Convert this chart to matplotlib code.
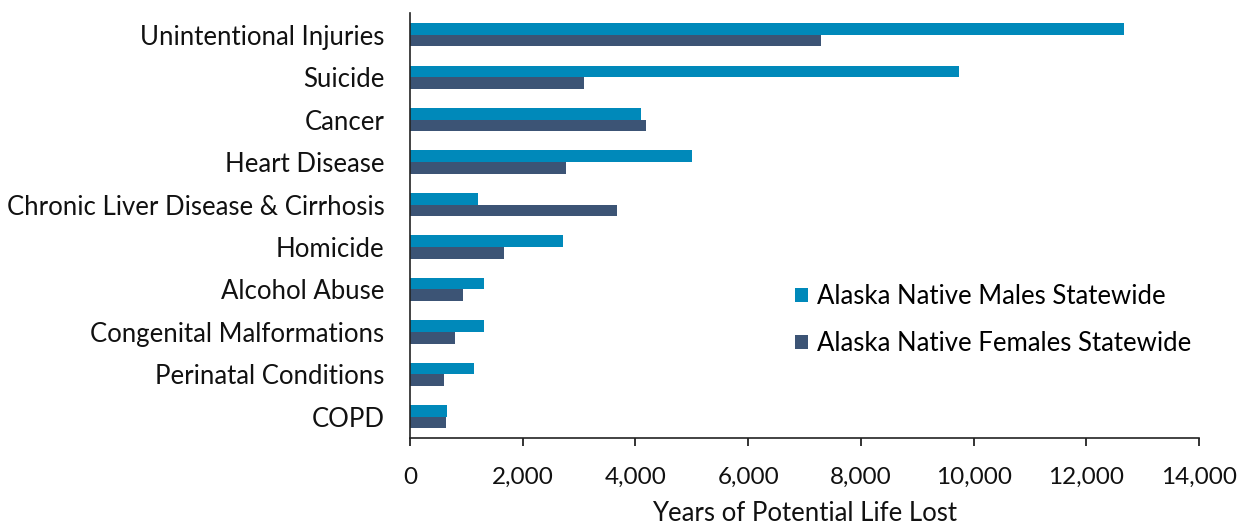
import matplotlib
matplotlib.use("Agg")
import matplotlib.pyplot as plt
import numpy as np
from matplotlib.ticker import FuncFormatter

categories = ["Unintentional Injuries", "Suicide", "Cancer", "Heart Disease",
              "Chronic Liver Disease & Cirrhosis", "Homicide", "Alcohol Abuse",
              "Congenital Malformations", "Perinatal Conditions", "COPD"]
males = [12670, 9750, 4095, 5000, 1210, 2710, 1320, 1320, 1127, 665]
females = [7285, 3090, 4185, 2760, 3665, 1670, 937, 802, 612, 636]
series_names = ["Alaska Native Males Statewide", "Alaska Native Females Statewide"]
xticks = [0, 2000, 4000, 6000, 8000, 10000, 12000, 14000]

plt.rcParams['font.family'] = ['Lato', 'DejaVu Sans']
male_color = "#0089BA"
female_color = "#3C5475"
text_color = "#111111"

fig = plt.figure(figsize=(12.41, 5.25), dpi=100)
ax = fig.add_axes([410/1241, (525-438)/525, (1199-410)/1241, (438-13.5)/525])

y = np.arange(len(categories))
h = 0.275
ax.barh(y - h/2, males, height=h, color=male_color, label=series_names[0])
ax.barh(y + h/2, females, height=h, color=female_color, label=series_names[1])

ax.set_ylim(len(categories) - 0.5, -0.5)
ax.set_xlim(0, 14000)
ax.set_yticks(y)
ax.set_yticklabels(categories, fontsize=18.5, color=text_color)
ax.tick_params(axis='y', length=0, pad=18.5)
ax.set_xticks(xticks)
ax.xaxis.set_major_formatter(FuncFormatter(lambda v, p: f"{int(v):,}"))
ax.tick_params(axis='x', labelsize=17.5, length=6, direction='out', pad=15,
               colors=text_color, width=1.2)
ax.set_xlabel("Years of Potential Life Lost", fontsize=18.5, labelpad=9, color=text_color)

for s in ["top", "right"]:
    ax.spines[s].set_visible(False)
for s in ["left", "bottom"]:
    ax.spines[s].set_color("#222222")
    ax.spines[s].set_linewidth(1.2)

leg = ax.legend(loc="upper left", bbox_to_anchor=((785-410)/789, (438-274)/424.5),
                frameon=False, fontsize=18.5, handlelength=0.5, handleheight=0.5,
                handletextpad=0.35, labelspacing=0.85, borderpad=0.4, borderaxespad=0)

fig.savefig("out.png", dpi=100)
